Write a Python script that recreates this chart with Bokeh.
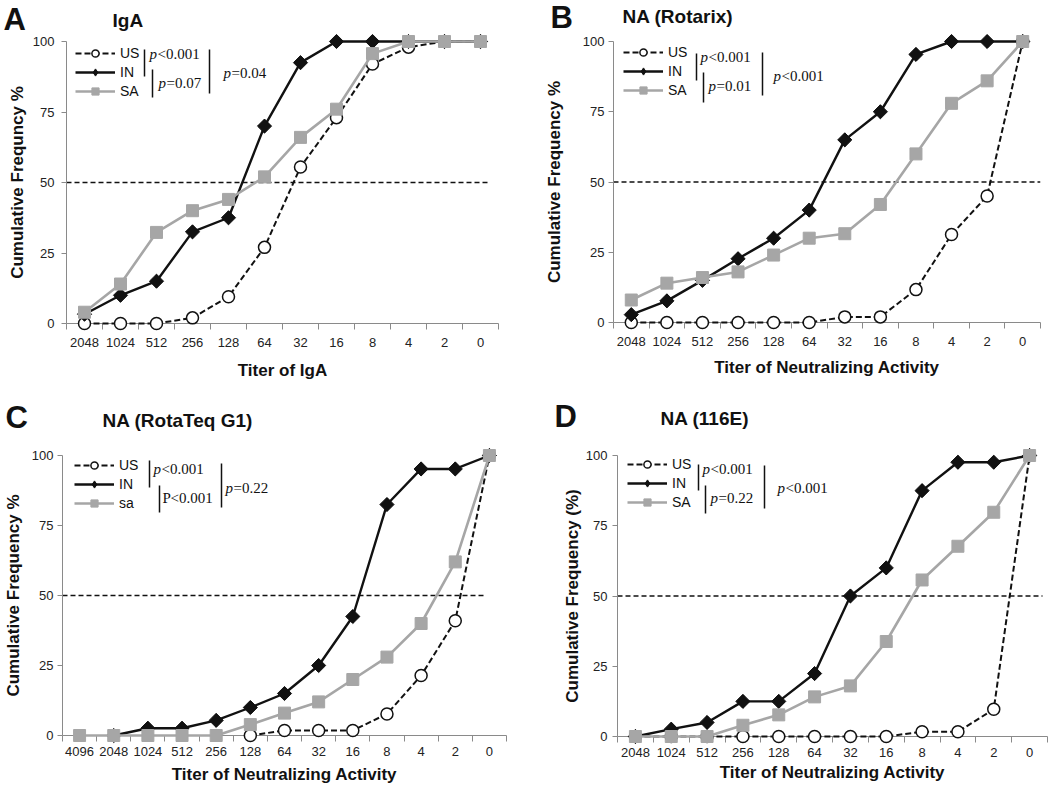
import numpy as np
from bokeh.plotting import figure
from bokeh.models import Range1d, FixedTicker, Label, Legend, LegendItem
from bokeh.core.properties import value
from bokeh.layouts import row, column
from bokeh.embed import file_html
from bokeh.resources import INLINE

# ---------------- data ----------------
titers_a = ["2048", "1024", "512", "256", "128", "64", "32", "16", "8", "4", "2", "0"]
us_a = [0, 0, 0, 2, 9.5, 27, 55.5, 73, 92, 98, 100, 100]
in_a = [3.3, 10, 15, 32.5, 37.5, 70, 92.5, 100, 100, 100, 100, 100]
sa_a = [4, 14, 32.3, 40, 44, 52, 66, 76, 95.7, 100, 100, 100]

titers_b = ["2048", "1024", "512", "256", "128", "64", "32", "16", "8", "4", "2", "0"]
us_b = [0, 0, 0, 0, 0, 0, 2, 2, 11.7, 31.3, 45, 100]
in_b = [2.8, 7.7, 15, 22.7, 30, 40, 65, 75, 95.4, 100, 100, 100]
sa_b = [8, 14, 16, 18, 24, 30, 31.6, 42, 60, 78, 86, 100]

titers_c = ["4096", "2048", "1024", "512", "256", "128", "64", "32", "16", "8", "4", "2", "0"]
us_c = [None, None, None, None, None, 0, 1.8, 1.8, 1.8, 7.7, 21.4, 41, 100]
in_c = [None, 0, 2.6, 2.6, 5.4, 10, 15, 25, 42.5, 82.5, 95.2, 95.2, 100]
sa_c = [0, 0, 0, 0, 0, 3.9, 8, 12, 20, 28, 40, 62, 100]

titers_d = ["2048", "1024", "512", "256", "128", "64", "32", "16", "8", "4", "2", "0"]
us_d = [0, 0, 0, 0, 0, 0, 0, 0, 1.7, 1.7, 9.7, 100]
in_d = [0, 2.6, 5, 12.5, 12.5, 22.4, 50, 60, 87.5, 97.6, 97.6, 100]
sa_d = [0, 0, 0, 4, 7.7, 14.1, 18, 33.8, 55.7, 67.7, 79.8, 100]

y_ticks = [0, 25, 50, 75, 100]
median_level = 50

FONT = "Liberation Sans"
SERIF = "Liberation Serif"
BLACK = "#111111"
GRAY = "#a6a6a6"
AXIS = "#8a8a8a"


def arr(v):
    return np.array([np.nan if a is None else a for a in v], dtype=float)


def make_panel(cats, us, inn, sa, names, cfg):
    n = len(cats)
    fw, fh = cfg["fw"], cfg["fh"]
    p = figure(frame_width=fw, frame_height=fh,
               min_border_left=cfg["l"], min_border_right=cfg["r"],
               min_border_top=cfg["t"], min_border_bottom=cfg["b"],
               x_range=Range1d(-0.5, n - 0.5), y_range=Range1d(0, 100),
               output_backend="svg", toolbar_location=None, title_location=None)
    p.outline_line_color = None
    p.grid.visible = False
    p.background_fill_color = "white"
    p.border_fill_color = "white"

    x = list(range(n))

    def X(rx):
        return -0.5 + rx * n / fw

    def Y(ry):
        return 100 - ry * 100 / fh

    # 50 % reference line
    p.segment(x0=[X(0)], y0=[median_level], x1=[X(cfg["mid_end"])], y1=[median_level],
              line_color=BLACK, line_width=1.5, line_dash="5 3")

    r1 = p.line(x, arr(us), line_color=BLACK, line_width=2, line_dash="6 3", level="overlay")
    r2 = p.scatter(x, arr(us), marker="circle", size=12, fill_color="white",
                   line_color=BLACK, line_width=1.5, level="overlay")
    r3 = p.line(x, arr(inn), line_color=BLACK, line_width=2.4, level="overlay")
    r4 = p.scatter(x, arr(inn), marker="diamond", size=13, fill_color=BLACK,
                   line_color=BLACK, level="overlay")
    p.scatter(x, arr(inn), marker="square", angle=np.pi / 4, size=10,
              fill_color=BLACK, line_color=BLACK, level="overlay")
    r5 = p.line(x, arr(sa), line_color=GRAY, line_width=2.6, level="overlay")
    r6 = p.scatter(x, arr(sa), marker="square", size=12, fill_color=GRAY,
                   line_color=GRAY, level="overlay")

    # axes
    xa = p.xaxis[0]
    xa.ticker = FixedTicker(ticks=x, minor_ticks=[i - 0.5 for i in range(n + 1)])
    xa.major_label_overrides = {i: c for i, c in enumerate(cats)}
    xa.major_tick_line_color = None
    xa.major_tick_out = 6
    xa.major_tick_in = 0
    xa.minor_tick_line_color = AXIS
    xa.minor_tick_out = 6
    xa.minor_tick_in = 0
    xa.axis_line_color = AXIS
    xa.major_label_text_font = FONT
    xa.major_label_text_font_size = "13px"
    xa.major_label_text_color = "#222222"
    xa.major_label_standoff = cfg["xls"]
    xa.axis_label = cfg["xlabel"]
    xa.axis_label_text_font = FONT
    xa.axis_label_text_font_size = "17px"
    xa.axis_label_text_font_style = "bold"
    xa.axis_label_text_color = "#111111"
    xa.axis_label_standoff = cfg["xas"]

    ya = p.yaxis[0]
    ya.ticker = FixedTicker(ticks=y_ticks)
    ya.major_tick_out = 5
    ya.major_tick_in = 0
    ya.major_tick_line_color = AXIS
    ya.minor_tick_line_color = None
    ya.axis_line_color = AXIS
    ya.major_label_text_font = FONT
    ya.major_label_text_font_size = "13px"
    ya.major_label_text_color = "#222222"
    ya.major_label_standoff = cfg["yls"]
    ya.axis_label = cfg["ylabel"]
    ya.axis_label_text_font = FONT
    ya.axis_label_text_font_size = "17px"
    ya.axis_label_text_font_style = "bold"
    ya.axis_label_text_color = "#111111"
    ya.axis_label_standoff = cfg["yas"]

    # legend
    gh, sp = 18, 1
    leg_h = 3 * gh + 2 * sp
    lx, ly = cfg["leg"]
    legend = Legend(items=[LegendItem(label=names[0], renderers=[r1, r2]),
                           LegendItem(label=names[1], renderers=[r3, r4]),
                           LegendItem(label=names[2], renderers=[r5, r6])],
                    location=(lx, fh - ly - leg_h), glyph_width=40, glyph_height=gh,
                    label_height=gh, label_standoff=5, spacing=sp, padding=0, margin=0,
                    border_line_color=None, background_fill_alpha=0,
                    label_text_font=FONT, label_text_font_size="14px",
                    label_text_color=BLACK)
    p.add_layout(legend)

    # significance bars and p values
    bx = [X(b[0]) for b in cfg["bars"]]
    p.segment(x0=bx, y0=[Y(b[1]) for b in cfg["bars"]],
              x1=bx, y1=[Y(b[2]) for b in cfg["bars"]],
              line_color=BLACK, line_width=1.5)
    for (rx, ry), (pre, ital, rest) in zip(cfg["ptext_pos"], cfg["ptext"]):
        p.add_layout(Label(x=X(rx), y=Y(ry), text=pre, text_font=SERIF,
                           text_font_style="italic" if ital else "normal",
                           text_font_size="15px", text_baseline="middle",
                           text_align="left", text_color=BLACK))
        p.add_layout(Label(x=X(rx + 8), y=Y(ry), text=rest, text_font=SERIF,
                           text_font_size="15px", text_baseline="middle",
                           text_align="left", text_color=BLACK))

    # panel letter and title (overlay text so they are not clipped)
    (lxp, lyp), (txp, typ) = cfg["letter_pos"], cfg["title_pos"]
    p.text(x=[X(lxp)], y=[Y(lyp)], text=[cfg["letter"]], text_font=value(FONT),
           text_font_style="bold", text_font_size="31px", text_baseline="middle",
           text_align="left", text_color=BLACK, level="overlay")
    p.text(x=[X(txp)], y=[Y(typ)], text=[cfg["title"]], text_font=value(FONT),
           text_font_style="bold", text_font_size="19px", text_baseline="middle",
           text_align="left", text_color=BLACK, level="overlay")
    return p


cfg_a = dict(l=66, fw=432, r=27, t=39, fh=282, b=74, leg=(9, 3), mid_end=421,
             bars=[(78, 8, 35), (86, 28, 56), (143, 8, 52)],
             ptext_pos=[(83, 12), (92, 41), (157, 31)],
             ptext=[("p", True, "<0.001"), ("p", True, "=0.07"), ("p", True, "=0.04")],
             letter="A", letter_pos=(-63, -22), title="IgA", title_pos=(46, -21),
             xlabel="Titer of IgA", ylabel="Cumulative Frequncy %",
             xls=8, xas=11, yls=7, yas=3)
cfg_b = dict(l=88, fw=427, r=10, t=41, fh=281, b=73, leg=(10, 2), mid_end=427,
             bars=[(83, 12, 39), (90, 31, 61), (149, 11, 54)],
             ptext_pos=[(87, 15), (95, 44), (160, 34)],
             ptext=[("p", True, "<0.001"), ("p", True, "=0.01"), ("p", True, "<0.001")],
             letter="B", letter_pos=(-63, -24), title="NA (Rotarix)", title_pos=(9, -25),
             xlabel="Titer of Neutralizing Activity", ylabel="Cumulative Frequency %",
             xls=8, xas=9, yls=4, yas=16)
cfg_c = dict(l=60, fw=444, r=21, t=60, fh=280, b=56, leg=(12, 1), mid_end=422,
             bars=[(87, 5, 32), (97, 30, 57), (159, 8, 52)],
             ptext_pos=[(91, 13), (100, 42), (163, 32)],
             ptext=[("p", True, "<0.001"), ("P", False, "<0.001"), ("p", True, "=0.22")],
             letter="C", letter_pos=(-57, -38), title="NA (RotaTeq G1)", title_pos=(40, -35),
             xlabel="Titer of Neutralizing Activity", ylabel="Cumulative Frequency %",
             xls=5, xas=6, yls=4, yas=6)
cfg_d = dict(l=90, fw=430, r=5, t=60, fh=281, b=55, leg=(10, 0), mid_end=425,
             bars=[(81, 9, 35), (88, 30, 58), (147, 10, 53)],
             ptext_pos=[(85, 13), (93, 42), (160, 32)],
             ptext=[("p", True, "<0.001"), ("p", True, "=0.22"), ("p", True, "<0.001")],
             letter="D", letter_pos=(-63, -39), title="NA (116E)", title_pos=(43, -37),
             xlabel="Titer of Neutralizing Activity", ylabel="Cumulative Frequency (%)",
             xls=5, xas=3, yls=5, yas=1)

pa = make_panel(titers_a, us_a, in_a, sa_a, ["US", "IN", "SA"], cfg_a)
pb = make_panel(titers_b, us_b, in_b, sa_b, ["US", "IN", "SA"], cfg_b)
pc = make_panel(titers_c, us_c, in_c, sa_c, ["US", "IN", "sa"], cfg_c)
pd = make_panel(titers_d, us_d, in_d, sa_d, ["US", "IN", "SA"], cfg_d)

layout = column(row(pa, pb), row(pc, pd))
open("out.html", "w").write(file_html(layout, INLINE))
